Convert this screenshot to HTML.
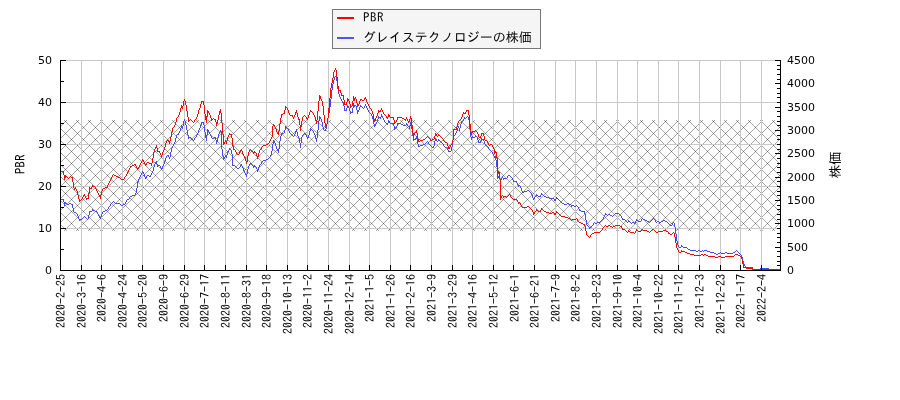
<!DOCTYPE html>
<html lang="ja"><head><meta charset="utf-8"><title>PBR</title>
<style>
html,body{margin:0;padding:0;background:#fff;}
body{width:900px;height:400px;overflow:hidden;position:relative;}
svg{position:absolute;left:0;top:0;display:block;}
.yl{font-family:"DejaVu Sans","Liberation Sans",sans-serif;font-size:11px;fill:#000;}
.jp{font-family:"Liberation Sans","IPAGothic","Noto Sans CJK JP",sans-serif;fill:#000;}
.mo{font-family:"IPAGothic","Liberation Mono","Noto Sans CJK JP",monospace;fill:#000;}
</style></head><body>
<svg width="900" height="400" viewBox="0 0 900 400">
<rect width="900" height="400" fill="#fff"/>
<clipPath id="hc"><rect x="61" y="120" width="719" height="111"/></clipPath>
<g clip-path="url(#hc)" stroke="#000" stroke-width="0.7" fill="none" stroke-opacity="0.5"><path d="M832,120 L943,231 M820,120 L931,231 M808,120 L919,231 M796,120 L907,231 M784,120 L895,231 M772,120 L883,231 M760,120 L871,231 M748,120 L859,231 M736,120 L847,231 M724,120 L835,231 M712,120 L823,231 M700,120 L811,231 M688,120 L799,231 M676,120 L787,231 M664,120 L775,231 M652,120 L763,231 M640,120 L751,231 M628,120 L739,231 M616,120 L727,231 M604,120 L715,231 M592,120 L703,231 M580,120 L691,231 M568,120 L679,231 M556,120 L667,231 M544,120 L655,231 M532,120 L643,231 M520,120 L631,231 M508,120 L619,231 M496,120 L607,231 M484,120 L595,231 M472,120 L583,231 M460,120 L571,231 M448,120 L559,231 M436,120 L547,231 M424,120 L535,231 M412,120 L523,231 M400,120 L511,231 M388,120 L499,231 M376,120 L487,231 M364,120 L475,231 M352,120 L463,231 M340,120 L451,231 M328,120 L439,231 M316,120 L427,231 M304,120 L415,231 M292,120 L403,231 M280,120 L391,231 M268,120 L379,231 M256,120 L367,231 M244,120 L355,231 M232,120 L343,231 M220,120 L331,231 M208,120 L319,231 M196,120 L307,231 M184,120 L295,231 M172,120 L283,231 M160,120 L271,231 M148,120 L259,231 M136,120 L247,231 M124,120 L235,231 M112,120 L223,231 M100,120 L211,231 M88,120 L199,231 M76,120 L187,231 M64,120 L175,231 M52,120 L163,231 M40,120 L151,231 M28,120 L139,231 M16,120 L127,231 M4,120 L115,231 M-8,120 L103,231 M-20,120 L91,231 M-32,120 L79,231 M-44,120 L67,231 M-56,120 L55,231 M-68,120 L43,231 M-80,120 L31,231 M-92,120 L19,231 M-104,120 L7,231 M-116,120 L-5,231 M-128,120 L-17,231 M-140,120 L-29,231 M-152,120 L-41,231 M-164,120 L-53,231 M-176,120 L-65,231"/><path d="M-17,120 L-128,231 M-5,120 L-116,231 M7,120 L-104,231 M19,120 L-92,231 M31,120 L-80,231 M43,120 L-68,231 M55,120 L-56,231 M67,120 L-44,231 M79,120 L-32,231 M91,120 L-20,231 M103,120 L-8,231 M115,120 L4,231 M127,120 L16,231 M139,120 L28,231 M151,120 L40,231 M163,120 L52,231 M175,120 L64,231 M187,120 L76,231 M199,120 L88,231 M211,120 L100,231 M223,120 L112,231 M235,120 L124,231 M247,120 L136,231 M259,120 L148,231 M271,120 L160,231 M283,120 L172,231 M295,120 L184,231 M307,120 L196,231 M319,120 L208,231 M331,120 L220,231 M343,120 L232,231 M355,120 L244,231 M367,120 L256,231 M379,120 L268,231 M391,120 L280,231 M403,120 L292,231 M415,120 L304,231 M427,120 L316,231 M439,120 L328,231 M451,120 L340,231 M463,120 L352,231 M475,120 L364,231 M487,120 L376,231 M499,120 L388,231 M511,120 L400,231 M523,120 L412,231 M535,120 L424,231 M547,120 L436,231 M559,120 L448,231 M571,120 L460,231 M583,120 L472,231 M595,120 L484,231 M607,120 L496,231 M619,120 L508,231 M631,120 L520,231 M643,120 L532,231 M655,120 L544,231 M667,120 L556,231 M679,120 L568,231 M691,120 L580,231 M703,120 L592,231 M715,120 L604,231 M727,120 L616,231 M739,120 L628,231 M751,120 L640,231 M763,120 L652,231 M775,120 L664,231 M787,120 L676,231 M799,120 L688,231 M811,120 L700,231 M823,120 L712,231 M835,120 L724,231 M847,120 L736,231 M859,120 L748,231 M871,120 L760,231 M883,120 L772,231 M895,120 L784,231 M907,120 L796,231 M919,120 L808,231 M931,120 L820,231 M943,120 L832,231 M955,120 L844,231 M967,120 L856,231 M979,120 L868,231"/></g>
<path d="M81.5,60 V270 M101.5,60 V270 M122.5,60 V270 M142.5,60 V270 M163.5,60 V270 M184.5,60 V270 M204.5,60 V270 M225.5,60 V270 M246.5,60 V270 M266.5,60 V270 M287.5,60 V270 M307.5,60 V270 M328.5,60 V270 M349.5,60 V270 M369.5,60 V270 M390.5,60 V270 M410.5,60 V270 M431.5,60 V270 M452.5,60 V270 M472.5,60 V270 M493.5,60 V270 M513.5,60 V270 M534.5,60 V270 M555.5,60 V270 M575.5,60 V270 M596.5,60 V270 M617.5,60 V270 M637.5,60 V270 M658.5,60 V270 M678.5,60 V270 M699.5,60 V270 M720.5,60 V270 M740.5,60 V270 M761.5,60 V270 M61,60.5 H780 M61,102.5 H780 M61,144.5 H780 M61,186.5 H780 M61,228.5 H780" stroke="#c8c8c8" stroke-width="1" fill="none" shape-rendering="crispEdges"/>
<path d="M61.5,199V200M62.5,199V200M63.5,199V202M64.5,202V206M65.5,202V204M66.5,203V204M67.5,204V205M68.5,204V205M69.5,203V204M70.5,203V204M71.5,204V205M72.5,204V208M73.5,208V212M74.5,212V213M75.5,212V213M76.5,213V214M77.5,214V216M78.5,216V219M79.5,219V221M80.5,219V220M81.5,219V220M82.5,218V219M83.5,217V218M84.5,216V217M85.5,217V218M86.5,218V219M87.5,219V220M88.5,215V219M89.5,211V215M90.5,211V212M91.5,211V212M92.5,209V211M93.5,210V211M94.5,210V211M95.5,211V212M96.5,211V212M97.5,212V214M98.5,214V216M99.5,216V218M100.5,217V219M101.5,214V217M102.5,212V214M103.5,211V212M104.5,211V212M105.5,210V211M106.5,210V211M107.5,209V210M108.5,207V209M109.5,206V207M110.5,204V206M111.5,203V204M112.5,202V203M113.5,201V202M114.5,202V203M115.5,203V204M116.5,203V204M117.5,203V204M118.5,203V204M119.5,203V204M120.5,204V205M121.5,205V206M122.5,205V206M123.5,204V205M124.5,204V205M125.5,202V204M126.5,200V202M127.5,199V200M128.5,199V200M129.5,197V199M130.5,196V197M131.5,196V197M132.5,195V196M133.5,195V196M134.5,195V196M135.5,193V195M136.5,188V193M137.5,182V188M138.5,179V182M139.5,177V179M140.5,175V177M141.5,173V175M142.5,171V173M143.5,172V174M144.5,174V177M145.5,177V179M146.5,176V178M147.5,175V176M148.5,175V176M149.5,176V177M150.5,175V177M151.5,173V175M152.5,171V173M153.5,167V171M154.5,164V167M155.5,162V164M156.5,161V164M157.5,164V167M158.5,165V166M159.5,165V166M160.5,166V168M161.5,168V170M162.5,166V169M163.5,164V166M164.5,161V164M165.5,158V161M166.5,156V158M167.5,155V156M168.5,155V157M169.5,157V159M170.5,152V157M171.5,148V152M172.5,146V148M173.5,144V146M174.5,142V144M175.5,138V142M176.5,135V138M177.5,134V135M178.5,133V135M179.5,131V133M180.5,128V131M181.5,125V128M182.5,126V129M183.5,121V126M184.5,119V121M185.5,121V125M186.5,125V130M187.5,130V135M188.5,135V139M189.5,137V138M190.5,137V138M191.5,138V139M192.5,139V140M193.5,140V141M194.5,138V140M195.5,137V138M196.5,135V137M197.5,133V135M198.5,130V133M199.5,128V130M200.5,125V128M201.5,122V125M202.5,122V123M203.5,122V125M204.5,125V132M205.5,132V138M206.5,135V141M207.5,129V135M208.5,130V132M209.5,132V134M210.5,134V136M211.5,136V138M212.5,138V139M213.5,138V139M214.5,137V138M215.5,137V140M216.5,140V144M217.5,138V142M218.5,134V138M219.5,132V134M220.5,130V132M221.5,131V149M222.5,149V156M223.5,156V160M224.5,157V159M225.5,155V157M226.5,155V158M227.5,152V155M228.5,150V152M229.5,148V150M230.5,149V150M231.5,150V154M232.5,154V166M233.5,165V166M234.5,165V166M235.5,166V167M236.5,167V168M237.5,168V169M238.5,168V169M239.5,167V168M240.5,165V167M241.5,164V166M242.5,166V168M243.5,168V171M244.5,171V173M245.5,173V175M246.5,174V177M247.5,169V174M248.5,166V169M249.5,164V166M250.5,163V164M251.5,164V165M252.5,165V166M253.5,166V168M254.5,165V167M255.5,166V167M256.5,167V169M257.5,169V172M258.5,167V170M259.5,165V167M260.5,164V165M261.5,162V164M262.5,161V162M263.5,160V161M264.5,160V161M265.5,160V161M266.5,159V160M267.5,159V160M268.5,158V159M269.5,157V158M270.5,155V157M271.5,151V155M272.5,144V151M273.5,140V144M274.5,141V143M275.5,143V146M276.5,146V149M277.5,149V151M278.5,149V153M279.5,141V149M280.5,136V141M281.5,134V136M282.5,133V134M283.5,133V134M284.5,130V133M285.5,126V130M286.5,127V128M287.5,128V129M288.5,129V131M289.5,131V133M290.5,133V134M291.5,134V135M292.5,135V136M293.5,136V137M294.5,134V136M295.5,131V134M296.5,129V132M297.5,132V136M298.5,136V138M299.5,138V143M300.5,143V148M301.5,137V143M302.5,135V137M303.5,134V135M304.5,133V134M305.5,134V135M306.5,135V137M307.5,137V139M308.5,135V138M309.5,131V135M310.5,128V131M311.5,129V130M312.5,130V131M313.5,131V133M314.5,133V135M315.5,135V139M316.5,138V142M317.5,130V138M318.5,121V130M319.5,116V121M320.5,117V119M321.5,119V122M322.5,122V127M323.5,127V130M324.5,130V131M325.5,129V131M326.5,124V129M327.5,118V124M328.5,113V118M329.5,107V113M330.5,99V107M331.5,90V99M332.5,84V90M333.5,80V84M334.5,77V80M335.5,76V77M336.5,77V81M337.5,81V89M338.5,89V94M339.5,94V97M340.5,97V99M341.5,99V101M342.5,101V103M343.5,102V106M344.5,106V111M345.5,110V111M346.5,108V111M347.5,105V108M348.5,106V108M349.5,108V111M350.5,111V114M351.5,112V113M352.5,108V113M353.5,103V108M354.5,105V107M355.5,105V106M356.5,106V110M357.5,110V114M358.5,110V112M359.5,107V110M360.5,105V107M361.5,106V107M362.5,107V108M363.5,108V109M364.5,106V108M365.5,104V106M366.5,106V108M367.5,108V110M368.5,110V112M369.5,112V113M370.5,113V114M371.5,114V116M372.5,116V119M373.5,119V124M374.5,124V127M375.5,124V126M376.5,122V124M377.5,119V122M378.5,116V119M379.5,117V118M380.5,117V119M381.5,114V117M382.5,116V118M383.5,118V120M384.5,120V122M385.5,122V123M386.5,123V124M387.5,123V125M388.5,120V123M389.5,121V123M390.5,123V124M391.5,123V124M392.5,123V124M393.5,123V126M394.5,126V130M395.5,128V129M396.5,126V128M397.5,123V126M398.5,123V124M399.5,123V124M400.5,123V124M401.5,124V125M402.5,124V125M403.5,125V126M404.5,125V126M405.5,125V126M406.5,123V125M407.5,124V126M408.5,126V127M409.5,126V129M410.5,122V126M411.5,124V129M412.5,129V136M413.5,136V141M414.5,139V140M415.5,138V140M416.5,136V139M417.5,139V144M418.5,144V147M419.5,146V147M420.5,145V146M421.5,145V146M422.5,145V146M423.5,144V145M424.5,144V145M425.5,143V144M426.5,142V143M427.5,141V142M428.5,142V144M429.5,144V145M430.5,145V146M431.5,146V147M432.5,147V148M433.5,146V148M434.5,141V146M435.5,138V141M436.5,139V141M437.5,141V142M438.5,139V141M439.5,140V141M440.5,141V142M441.5,142V143M442.5,143V144M443.5,144V146M444.5,146V147M445.5,147V148M446.5,147V148M447.5,148V150M448.5,150V152M449.5,151V152M450.5,151V152M451.5,147V151M452.5,140V147M453.5,136V140M454.5,135V136M455.5,133V135M456.5,131V133M457.5,128V131M458.5,126V128M459.5,128V131M460.5,124V128M461.5,122V124M462.5,121V122M463.5,119V121M464.5,117V119M465.5,118V119M466.5,117V118M467.5,116V117M468.5,117V120M469.5,120V129M470.5,129V137M471.5,137V140M472.5,136V138M473.5,137V138M474.5,137V138M475.5,135V137M476.5,136V137M477.5,137V140M478.5,140V143M479.5,142V143M480.5,141V143M481.5,138V141M482.5,139V140M483.5,139V141M484.5,141V144M485.5,144V145M486.5,145V146M487.5,146V147M488.5,147V149M489.5,149V150M490.5,150V151M491.5,151V152M492.5,152V154M493.5,154V156M494.5,156V158M495.5,156V160M496.5,160V167M497.5,167V179M498.5,176V178M499.5,177V179M500.5,179V181M501.5,178V180M502.5,176V178M503.5,178V180M504.5,178V179M505.5,178V179M506.5,178V179M507.5,176V178M508.5,175V176M509.5,175V176M510.5,176V177M511.5,177V178M512.5,178V180M513.5,180V182M514.5,181V182M515.5,181V182M516.5,181V183M517.5,183V185M518.5,185V187M519.5,185V186M520.5,186V188M521.5,188V191M522.5,191V193M523.5,192V193M524.5,191V192M525.5,191V192M526.5,191V192M527.5,190V191M528.5,190V191M529.5,191V192M530.5,192V193M531.5,193V195M532.5,195V198M533.5,198V200M534.5,197V199M535.5,196V197M536.5,194V196M537.5,195V196M538.5,196V197M539.5,196V197M540.5,195V197M541.5,193V195M542.5,194V195M543.5,195V196M544.5,196V197M545.5,196V197M546.5,197V198M547.5,197V198M548.5,197V198M549.5,198V199M550.5,198V199M551.5,198V199M552.5,198V199M553.5,198V199M554.5,199V201M555.5,199V201M556.5,197V199M557.5,198V199M558.5,199V200M559.5,200V201M560.5,201V202M561.5,202V203M562.5,203V204M563.5,203V204M564.5,204V205M565.5,204V205M566.5,204V205M567.5,203V204M568.5,203V204M569.5,204V205M570.5,204V205M571.5,205V207M572.5,205V206M573.5,205V206M574.5,206V207M575.5,206V207M576.5,205V206M577.5,206V207M578.5,207V209M579.5,209V211M580.5,210V211M581.5,211V212M582.5,211V212M583.5,211V212M584.5,211V214M585.5,214V220M586.5,220V225M587.5,225V226M588.5,226V227M589.5,227V229M590.5,227V228M591.5,226V227M592.5,225V226M593.5,223V225M594.5,222V223M595.5,223V224M596.5,223V224M597.5,222V223M598.5,222V223M599.5,222V223M600.5,221V222M601.5,220V221M602.5,219V220M603.5,217V219M604.5,215V217M605.5,213V215M606.5,214V215M607.5,215V216M608.5,214V215M609.5,214V215M610.5,215V216M611.5,215V216M612.5,216V217M613.5,215V216M614.5,214V215M615.5,213V214M616.5,213V214M617.5,213V214M618.5,213V214M619.5,214V215M620.5,215V216M621.5,216V218M622.5,218V220M623.5,219V220M624.5,219V220M625.5,220V221M626.5,221V222M627.5,222V223M628.5,220V222M629.5,221V222M630.5,222V223M631.5,223V224M632.5,222V223M633.5,222V223M634.5,223V224M635.5,221V223M636.5,219V221M637.5,220V221M638.5,221V222M639.5,221V222M640.5,221V222M641.5,219V221M642.5,218V219M643.5,219V220M644.5,219V220M645.5,220V221M646.5,220V221M647.5,221V222M648.5,221V222M649.5,222V223M650.5,221V222M651.5,220V221M652.5,219V220M653.5,218V219M654.5,219V220M655.5,220V222M656.5,222V223M657.5,221V222M658.5,221V222M659.5,222V223M660.5,222V223M661.5,221V222M662.5,221V222M663.5,220V221M664.5,220V221M665.5,221V222M666.5,221V222M667.5,222V223M668.5,223V224M669.5,224V225M670.5,225V226M671.5,225V226M672.5,223V225M673.5,222V223M674.5,223V227M675.5,227V234M676.5,234V241M677.5,241V245M678.5,245V247M679.5,247V248M680.5,247V248M681.5,245V247M682.5,246V247M683.5,247V248M684.5,247V248M685.5,247V248M686.5,247V248M687.5,248V249M688.5,249V250M689.5,249V250M690.5,250V251M691.5,250V251M692.5,250V251M693.5,250V251M694.5,250V251M695.5,250V251M696.5,251V252M697.5,251V252M698.5,250V251M699.5,250V251M700.5,251V252M701.5,251V252M702.5,250V251M703.5,251V252M704.5,250V251M705.5,250V251M706.5,250V251M707.5,251V252M708.5,251V252M709.5,251V252M710.5,252V253M711.5,252V253M712.5,252V253M713.5,252V253M714.5,253V254M715.5,253V254M716.5,254V255M717.5,254V255M718.5,253V254M719.5,253V254M720.5,252V253M721.5,253V254M722.5,253V254M723.5,253V254M724.5,253V254M725.5,252V253M726.5,252V253M727.5,253V254M728.5,253V254M729.5,253V254M730.5,253V254M731.5,253V254M732.5,253V254M733.5,252V253M734.5,252V253M735.5,251V252M736.5,250V251M737.5,251V252M738.5,252V253M739.5,253V254M740.5,254V255M741.5,255V257M742.5,257V261M743.5,261V264M744.5,264V266M745.5,266V268M746.5,267V268M747.5,267V268M748.5,267V268M749.5,267V268M750.5,267V268M751.5,267V268M752.5,267V270M753.5,269V270M754.5,269V270M755.5,269V270M756.5,269V270M757.5,269V270M758.5,269V270M759.5,269V270M760.5,268V270M761.5,268V269M762.5,268V269M763.5,268V269M764.5,268V269M765.5,268V269M766.5,268V269M767.5,268V269M768.5,268V270M769.5,269V270M770.5,269V270M771.5,269V270M772.5,269V270M773.5,269V270M774.5,269V270M775.5,269V270M776.5,269V270M777.5,269V270M778.5,269V270M779.5,269V270" stroke="#4646ff" stroke-width="1" fill="none" shape-rendering="crispEdges"/>
<path d="M61.5,171V172M62.5,171V172M63.5,171V175M64.5,175V180M65.5,175V178M66.5,176V177M67.5,177V178M68.5,178V179M69.5,177V178M70.5,176V177M71.5,177V178M72.5,177V182M73.5,182V188M74.5,188V190M75.5,187V189M76.5,189V191M77.5,191V195M78.5,195V199M79.5,199V202M80.5,200V201M81.5,199V200M82.5,197V199M83.5,195V197M84.5,194V196M85.5,196V198M86.5,198V200M87.5,198V199M88.5,193V199M89.5,187V193M90.5,188V189M91.5,187V189M92.5,185V187M93.5,186V187M94.5,186V187M95.5,187V189M96.5,189V191M97.5,191V193M98.5,193V195M99.5,195V197M100.5,195V199M101.5,191V195M102.5,189V191M103.5,188V189M104.5,188V189M105.5,187V188M106.5,187V188M107.5,185V187M108.5,183V185M109.5,181V183M110.5,179V181M111.5,177V179M112.5,175V177M113.5,174V175M114.5,175V176M115.5,175V176M116.5,176V177M117.5,176V177M118.5,177V178M119.5,177V178M120.5,178V179M121.5,179V180M122.5,179V180M123.5,179V180M124.5,177V179M125.5,176V177M126.5,174V176M127.5,172V174M128.5,170V172M129.5,168V170M130.5,166V168M131.5,166V167M132.5,165V166M133.5,165V166M134.5,164V165M135.5,164V166M136.5,166V168M137.5,168V170M138.5,167V169M139.5,165V167M140.5,163V165M141.5,161V163M142.5,159V161M143.5,160V162M144.5,162V164M145.5,164V166M146.5,163V165M147.5,162V163M148.5,162V163M149.5,163V164M150.5,163V164M151.5,163V166M152.5,158V163M153.5,152V158M154.5,149V152M155.5,147V149M156.5,145V148M157.5,148V152M158.5,151V152M159.5,151V153M160.5,153V155M161.5,155V157M162.5,152V155M163.5,150V152M164.5,147V150M165.5,143V147M166.5,141V143M167.5,140V141M168.5,140V142M169.5,141V144M170.5,137V141M171.5,132V137M172.5,128V132M173.5,127V128M174.5,125V127M175.5,122V125M176.5,118V122M177.5,117V118M178.5,115V117M179.5,112V115M180.5,108V112M181.5,105V108M182.5,106V109M183.5,101V106M184.5,99V101M185.5,101V105M186.5,105V111M187.5,111V117M188.5,117V122M189.5,120V121M190.5,119V120M191.5,120V121M192.5,121V122M193.5,122V123M194.5,120V122M195.5,119V120M196.5,117V119M197.5,114V117M198.5,110V114M199.5,108V110M200.5,104V108M201.5,101V104M202.5,101V102M203.5,101V105M204.5,105V114M205.5,114V120M206.5,116V123M207.5,110V117M208.5,111V113M209.5,113V115M210.5,115V118M211.5,118V121M212.5,119V120M213.5,118V119M214.5,119V120M215.5,119V122M216.5,122V126M217.5,120V124M218.5,115V120M219.5,111V115M220.5,109V113M221.5,113V123M222.5,123V134M223.5,134V145M224.5,142V144M225.5,140V142M226.5,141V144M227.5,137V141M228.5,135V137M229.5,133V135M230.5,134V135M231.5,134V138M232.5,138V146M233.5,146V150M234.5,149V150M235.5,150V152M236.5,152V154M237.5,154V155M238.5,154V155M239.5,152V154M240.5,150V152M241.5,149V151M242.5,151V154M243.5,154V156M244.5,156V158M245.5,158V161M246.5,161V164M247.5,156V162M248.5,152V156M249.5,150V152M250.5,149V150M251.5,150V151M252.5,151V152M253.5,152V154M254.5,151V153M255.5,152V153M256.5,153V156M257.5,156V159M258.5,153V157M259.5,150V153M260.5,149V150M261.5,147V149M262.5,146V147M263.5,145V146M264.5,145V146M265.5,145V146M266.5,144V145M267.5,144V145M268.5,143V144M269.5,141V143M270.5,139V141M271.5,137V139M272.5,126V137M273.5,124V126M274.5,125V127M275.5,127V129M276.5,129V132M277.5,132V134M278.5,131V135M279.5,124V131M280.5,118V124M281.5,114V118M282.5,114V115M283.5,113V114M284.5,110V114M285.5,106V110M286.5,107V108M287.5,108V110M288.5,110V113M289.5,113V115M290.5,115V116M291.5,115V116M292.5,115V117M293.5,117V119M294.5,115V117M295.5,112V115M296.5,110V113M297.5,113V117M298.5,117V120M299.5,119V125M300.5,125V131M301.5,121V127M302.5,117V121M303.5,116V117M304.5,115V116M305.5,116V117M306.5,117V119M307.5,118V120M308.5,115V118M309.5,112V115M310.5,110V112M311.5,111V112M312.5,112V113M313.5,113V115M314.5,115V117M315.5,117V121M316.5,120V124M317.5,111V120M318.5,101V111M319.5,95V101M320.5,96V99M321.5,99V101M322.5,101V106M323.5,106V115M324.5,115V123M325.5,123V128M326.5,124V126M327.5,118V124M328.5,108V118M329.5,98V108M330.5,88V98M331.5,83V88M332.5,78V83M333.5,72V78M334.5,70V72M335.5,68V70M336.5,70V77M337.5,77V86M338.5,86V91M339.5,90V91M340.5,90V93M341.5,93V96M342.5,95V96M343.5,95V100M344.5,100V105M345.5,104V105M346.5,102V105M347.5,98V102M348.5,99V101M349.5,101V104M350.5,104V108M351.5,106V107M352.5,101V106M353.5,96V101M354.5,98V101M355.5,97V99M356.5,99V103M357.5,103V107M358.5,104V106M359.5,101V104M360.5,99V101M361.5,99V100M362.5,100V101M363.5,100V101M364.5,98V100M365.5,97V99M366.5,99V102M367.5,102V104M368.5,104V106M369.5,106V108M370.5,108V109M371.5,109V111M372.5,111V114M373.5,114V119M374.5,119V122M375.5,118V121M376.5,116V118M377.5,113V116M378.5,110V113M379.5,111V112M380.5,110V112M381.5,108V110M382.5,110V112M383.5,112V114M384.5,114V115M385.5,115V116M386.5,116V118M387.5,117V119M388.5,114V117M389.5,115V117M390.5,117V118M391.5,117V118M392.5,117V118M393.5,117V120M394.5,120V124M395.5,122V123M396.5,120V122M397.5,117V120M398.5,117V118M399.5,117V118M400.5,117V118M401.5,117V118M402.5,118V119M403.5,118V119M404.5,119V120M405.5,119V121M406.5,117V119M407.5,119V121M408.5,121V123M409.5,119V122M410.5,116V119M411.5,118V125M412.5,125V133M413.5,133V136M414.5,133V135M415.5,132V133M416.5,130V133M417.5,133V139M418.5,139V142M419.5,141V142M420.5,140V141M421.5,140V141M422.5,140V141M423.5,139V140M424.5,139V140M425.5,138V139M426.5,137V138M427.5,136V137M428.5,137V138M429.5,138V139M430.5,139V141M431.5,140V141M432.5,139V140M433.5,139V140M434.5,136V139M435.5,133V136M436.5,134V136M437.5,136V137M438.5,134V136M439.5,135V136M440.5,136V137M441.5,137V138M442.5,138V139M443.5,139V141M444.5,141V142M445.5,142V143M446.5,142V143M447.5,143V146M448.5,146V149M449.5,147V149M450.5,145V147M451.5,144V145M452.5,140V144M453.5,129V140M454.5,129V130M455.5,129V130M456.5,127V130M457.5,123V127M458.5,121V123M459.5,120V121M460.5,119V120M461.5,117V119M462.5,114V117M463.5,112V114M464.5,113V114M465.5,112V114M466.5,110V112M467.5,110V111M468.5,110V115M469.5,115V124M470.5,124V132M471.5,132V135M472.5,131V133M473.5,131V132M474.5,131V132M475.5,130V131M476.5,131V132M477.5,132V134M478.5,134V137M479.5,137V138M480.5,136V138M481.5,133V136M482.5,133V134M483.5,133V136M484.5,136V140M485.5,140V141M486.5,140V141M487.5,141V143M488.5,143V145M489.5,145V146M490.5,144V145M491.5,144V145M492.5,145V147M493.5,147V149M494.5,149V154M495.5,151V153M496.5,152V158M497.5,158V176M498.5,171V174M499.5,172V179M500.5,179V200M501.5,196V198M502.5,195V196M503.5,196V198M504.5,196V197M505.5,196V197M506.5,197V198M507.5,196V197M508.5,195V196M509.5,194V195M510.5,195V197M511.5,197V198M512.5,198V199M513.5,199V200M514.5,199V200M515.5,199V200M516.5,199V200M517.5,200V202M518.5,202V204M519.5,202V203M520.5,203V205M521.5,205V207M522.5,207V208M523.5,207V208M524.5,207V208M525.5,207V208M526.5,207V208M527.5,206V207M528.5,206V207M529.5,207V208M530.5,208V209M531.5,209V210M532.5,210V212M533.5,212V215M534.5,212V214M535.5,211V212M536.5,209V211M537.5,210V211M538.5,211V212M539.5,211V212M540.5,210V212M541.5,208V210M542.5,209V210M543.5,210V211M544.5,211V212M545.5,211V212M546.5,212V213M547.5,212V213M548.5,212V213M549.5,213V214M550.5,213V214M551.5,213V214M552.5,212V213M553.5,212V213M554.5,213V215M555.5,213V215M556.5,211V213M557.5,212V213M558.5,213V214M559.5,214V215M560.5,215V216M561.5,216V217M562.5,216V217M563.5,216V217M564.5,216V217M565.5,217V218M566.5,217V218M567.5,217V218M568.5,218V219M569.5,218V219M570.5,219V220M571.5,220V221M572.5,219V220M573.5,219V220M574.5,219V220M575.5,219V220M576.5,218V219M577.5,219V221M578.5,221V222M579.5,222V223M580.5,222V223M581.5,223V224M582.5,223V224M583.5,224V225M584.5,224V226M585.5,226V231M586.5,231V235M587.5,235V236M588.5,236V237M589.5,237V238M590.5,235V237M591.5,234V235M592.5,233V234M593.5,233V234M594.5,232V233M595.5,232V233M596.5,232V233M597.5,232V233M598.5,232V233M599.5,232V233M600.5,231V232M601.5,230V231M602.5,228V230M603.5,227V228M604.5,226V227M605.5,225V226M606.5,226V227M607.5,226V227M608.5,225V226M609.5,225V226M610.5,226V227M611.5,226V227M612.5,227V228M613.5,226V227M614.5,226V227M615.5,225V226M616.5,225V226M617.5,225V226M618.5,225V226M619.5,225V226M620.5,226V227M621.5,226V228M622.5,228V230M623.5,229V230M624.5,229V230M625.5,230V231M626.5,231V232M627.5,232V233M628.5,230V232M629.5,231V232M630.5,232V233M631.5,232V233M632.5,232V233M633.5,232V233M634.5,233V234M635.5,231V233M636.5,229V231M637.5,230V231M638.5,231V232M639.5,231V232M640.5,231V232M641.5,230V231M642.5,229V230M643.5,230V231M644.5,230V231M645.5,230V231M646.5,230V231M647.5,231V232M648.5,231V232M649.5,232V233M650.5,231V232M651.5,230V231M652.5,229V230M653.5,229V230M654.5,230V231M655.5,231V232M656.5,232V233M657.5,232V233M658.5,231V232M659.5,231V232M660.5,231V232M661.5,231V232M662.5,231V232M663.5,230V231M664.5,230V231M665.5,230V231M666.5,231V232M667.5,231V232M668.5,232V234M669.5,233V234M670.5,234V235M671.5,234V235M672.5,233V234M673.5,232V233M674.5,233V237M675.5,237V243M676.5,243V248M677.5,248V250M678.5,250V252M679.5,252V253M680.5,252V253M681.5,250V252M682.5,251V252M683.5,251V252M684.5,251V252M685.5,252V253M686.5,252V253M687.5,253V254M688.5,253V254M689.5,253V254M690.5,254V255M691.5,254V255M692.5,254V255M693.5,254V255M694.5,255V256M695.5,255V256M696.5,255V256M697.5,255V256M698.5,255V256M699.5,255V256M700.5,255V256M701.5,254V255M702.5,254V255M703.5,255V256M704.5,254V255M705.5,254V255M706.5,255V256M707.5,255V256M708.5,256V257M709.5,256V257M710.5,256V257M711.5,256V257M712.5,256V257M713.5,256V257M714.5,256V257M715.5,257V258M716.5,257V258M717.5,257V258M718.5,256V257M719.5,256V257M720.5,256V257M721.5,257V258M722.5,257V258M723.5,257V258M724.5,257V258M725.5,256V257M726.5,256V257M727.5,256V257M728.5,256V257M729.5,256V257M730.5,256V257M731.5,256V257M732.5,256V257M733.5,256V257M734.5,255V256M735.5,254V255M736.5,254V255M737.5,254V255M738.5,255V256M739.5,255V256M740.5,256V257M741.5,257V259M742.5,259V264M743.5,264V268M744.5,267V268M745.5,267V268M746.5,267V269M747.5,268V269M748.5,268V269M749.5,268V269M750.5,268V269M751.5,268V269M752.5,268V270M753.5,269V270M754.5,269V270M755.5,269V270M756.5,269V270M757.5,269V270M758.5,269V270M759.5,269V270M760.5,269V270M761.5,269V270M762.5,269V270M763.5,269V270M764.5,269V270M765.5,269V270M766.5,269V270M767.5,269V270M768.5,269V270M769.5,269V270M770.5,269V270M771.5,269V270M772.5,269V270M773.5,269V270M774.5,269V270M775.5,269V270M776.5,269V270M777.5,269V270M778.5,269V270M779.5,269V270" stroke="#ff0000" stroke-width="1" fill="none" shape-rendering="crispEdges"/>
<path d="M60.5,60 V271 M780.5,60 V271 M60,270.5 H781 M61,60.5 H66 M61,102.5 H66 M61,144.5 H66 M61,186.5 H66 M61,228.5 H66 M61,270.5 H66 M61,81.5 H64 M61,123.5 H64 M61,165.5 H64 M61,207.5 H64 M61,249.5 H64 M775,270.5 H780 M777,265.5 H780 M777,261.5 H780 M777,256.5 H780 M777,251.5 H780 M775,247.5 H780 M777,242.5 H780 M777,237.5 H780 M777,233.5 H780 M777,228.5 H780 M775,223.5 H780 M777,219.5 H780 M777,214.5 H780 M777,209.5 H780 M777,205.5 H780 M775,200.5 H780 M777,195.5 H780 M777,191.5 H780 M777,186.5 H780 M777,181.5 H780 M775,177.5 H780 M777,172.5 H780 M777,167.5 H780 M777,163.5 H780 M777,158.5 H780 M775,153.5 H780 M777,149.5 H780 M777,144.5 H780 M777,139.5 H780 M777,135.5 H780 M775,130.5 H780 M777,125.5 H780 M777,121.5 H780 M777,116.5 H780 M777,111.5 H780 M775,107.5 H780 M777,102.5 H780 M777,97.5 H780 M777,93.5 H780 M777,88.5 H780 M775,83.5 H780 M777,79.5 H780 M777,74.5 H780 M777,69.5 H780 M777,65.5 H780 M775,60.5 H780 M60.5,265 V270 M81.5,265 V270 M101.5,265 V270 M122.5,265 V270 M142.5,265 V270 M163.5,265 V270 M184.5,265 V270 M204.5,265 V270 M225.5,265 V270 M246.5,265 V270 M266.5,265 V270 M287.5,265 V270 M307.5,265 V270 M328.5,265 V270 M349.5,265 V270 M369.5,265 V270 M390.5,265 V270 M410.5,265 V270 M431.5,265 V270 M452.5,265 V270 M472.5,265 V270 M493.5,265 V270 M513.5,265 V270 M534.5,265 V270 M555.5,265 V270 M575.5,265 V270 M596.5,265 V270 M617.5,265 V270 M637.5,265 V270 M658.5,265 V270 M678.5,265 V270 M699.5,265 V270 M720.5,265 V270 M740.5,265 V270 M761.5,265 V270" stroke="#000" stroke-width="1" fill="none" shape-rendering="crispEdges"/>
<rect x="332.5" y="9.5" width="208" height="39" fill="#f5f5f5" stroke="#777" stroke-width="1" shape-rendering="crispEdges"/>
<rect x="337" y="17" width="17" height="2" fill="#ff0000" shape-rendering="crispEdges"/>
<rect x="337" y="37" width="17" height="2" fill="#5252fc" shape-rendering="crispEdges"/>
<g opacity="0.999">
<text class="yl" x="52" y="64" text-anchor="end">50</text>
<text class="yl" x="52" y="106" text-anchor="end">40</text>
<text class="yl" x="52" y="148" text-anchor="end">30</text>
<text class="yl" x="52" y="190" text-anchor="end">20</text>
<text class="yl" x="52" y="232" text-anchor="end">10</text>
<text class="yl" x="52" y="274" text-anchor="end">0</text>
<text class="yl" x="787" y="274">0</text>
<text class="yl" x="787" y="251">500</text>
<text class="yl" x="787" y="227">1000</text>
<text class="yl" x="787" y="204">1500</text>
<text class="yl" x="787" y="181">2000</text>
<text class="yl" x="787" y="157">2500</text>
<text class="yl" x="787" y="134">3000</text>
<text class="yl" x="787" y="111">3500</text>
<text class="yl" x="787" y="87">4000</text>
<text class="yl" x="787" y="64">4500</text>
<text class="mo" font-size="12" text-anchor="end" transform="translate(65.00,274) rotate(-90)">2020-2-25</text>
<text class="mo" font-size="12" text-anchor="end" transform="translate(85.61,274) rotate(-90)">2020-3-16</text>
<text class="mo" font-size="12" text-anchor="end" transform="translate(106.23,274) rotate(-90)">2020-4-6</text>
<text class="mo" font-size="12" text-anchor="end" transform="translate(126.84,274) rotate(-90)">2020-4-24</text>
<text class="mo" font-size="12" text-anchor="end" transform="translate(147.45,274) rotate(-90)">2020-5-20</text>
<text class="mo" font-size="12" text-anchor="end" transform="translate(168.07,274) rotate(-90)">2020-6-9</text>
<text class="mo" font-size="12" text-anchor="end" transform="translate(188.68,274) rotate(-90)">2020-6-29</text>
<text class="mo" font-size="12" text-anchor="end" transform="translate(209.29,274) rotate(-90)">2020-7-17</text>
<text class="mo" font-size="12" text-anchor="end" transform="translate(229.91,274) rotate(-90)">2020-8-11</text>
<text class="mo" font-size="12" text-anchor="end" transform="translate(250.52,274) rotate(-90)">2020-8-31</text>
<text class="mo" font-size="12" text-anchor="end" transform="translate(271.13,274) rotate(-90)">2020-9-18</text>
<text class="mo" font-size="12" text-anchor="end" transform="translate(291.75,274) rotate(-90)">2020-10-13</text>
<text class="mo" font-size="12" text-anchor="end" transform="translate(312.36,274) rotate(-90)">2020-11-2</text>
<text class="mo" font-size="12" text-anchor="end" transform="translate(332.98,274) rotate(-90)">2020-11-24</text>
<text class="mo" font-size="12" text-anchor="end" transform="translate(353.59,274) rotate(-90)">2020-12-14</text>
<text class="mo" font-size="12" text-anchor="end" transform="translate(374.20,274) rotate(-90)">2021-1-5</text>
<text class="mo" font-size="12" text-anchor="end" transform="translate(394.82,274) rotate(-90)">2021-1-26</text>
<text class="mo" font-size="12" text-anchor="end" transform="translate(415.43,274) rotate(-90)">2021-2-16</text>
<text class="mo" font-size="12" text-anchor="end" transform="translate(436.04,274) rotate(-90)">2021-3-9</text>
<text class="mo" font-size="12" text-anchor="end" transform="translate(456.66,274) rotate(-90)">2021-3-29</text>
<text class="mo" font-size="12" text-anchor="end" transform="translate(477.27,274) rotate(-90)">2021-4-16</text>
<text class="mo" font-size="12" text-anchor="end" transform="translate(497.88,274) rotate(-90)">2021-5-12</text>
<text class="mo" font-size="12" text-anchor="end" transform="translate(518.50,274) rotate(-90)">2021-6-1</text>
<text class="mo" font-size="12" text-anchor="end" transform="translate(539.11,274) rotate(-90)">2021-6-21</text>
<text class="mo" font-size="12" text-anchor="end" transform="translate(559.72,274) rotate(-90)">2021-7-9</text>
<text class="mo" font-size="12" text-anchor="end" transform="translate(580.34,274) rotate(-90)">2021-8-2</text>
<text class="mo" font-size="12" text-anchor="end" transform="translate(600.95,274) rotate(-90)">2021-8-23</text>
<text class="mo" font-size="12" text-anchor="end" transform="translate(621.56,274) rotate(-90)">2021-9-10</text>
<text class="mo" font-size="12" text-anchor="end" transform="translate(642.18,274) rotate(-90)">2021-10-4</text>
<text class="mo" font-size="12" text-anchor="end" transform="translate(662.79,274) rotate(-90)">2021-10-22</text>
<text class="mo" font-size="12" text-anchor="end" transform="translate(683.40,274) rotate(-90)">2021-11-12</text>
<text class="mo" font-size="12" text-anchor="end" transform="translate(704.02,274) rotate(-90)">2021-12-3</text>
<text class="mo" font-size="12" text-anchor="end" transform="translate(724.63,274) rotate(-90)">2021-12-23</text>
<text class="mo" font-size="12" text-anchor="end" transform="translate(745.25,274) rotate(-90)">2022-1-17</text>
<text class="mo" font-size="12" text-anchor="end" transform="translate(765.86,274) rotate(-90)">2022-2-4</text>
<text class="mo" font-size="13.33" text-anchor="middle" transform="translate(24.7,164.3) rotate(-90)">PBR</text>
<text class="jp" font-size="13.33" text-anchor="middle" transform="translate(840,165) rotate(-90)">株価</text>
<text class="mo" font-size="13" letter-spacing="0.5" x="363" y="22">PBR</text>
<text class="jp" font-size="13" x="362.8" y="41.8">グレイステクノロジーの株価</text>
</g>
</svg></body></html>
